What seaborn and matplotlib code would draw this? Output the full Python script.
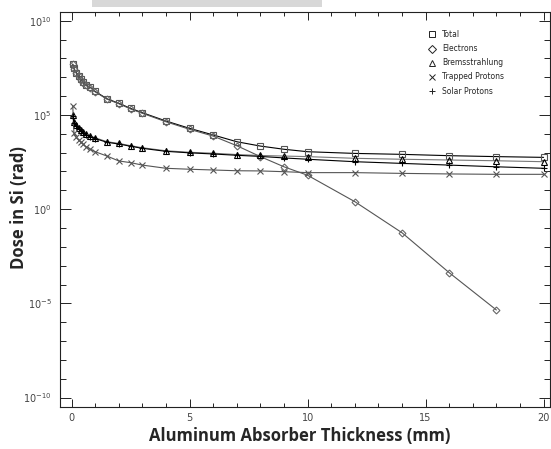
import numpy as np
import pandas as pd
import matplotlib
matplotlib.use("Agg")
import matplotlib.pyplot as plt
import seaborn as sns
from matplotlib.lines import Line2D
from matplotlib.patches import Rectangle
from matplotlib.ticker import FixedLocator, FuncFormatter, NullFormatter

# Aluminum thickness (mm) and dose in Si (log10 rad)
thickness = [0.05, 0.1, 0.2, 0.3, 0.4, 0.5, 0.6, 0.8, 1.0, 1.5, 2, 2.5, 3,
             4, 5, 6, 7, 8, 9, 10, 12, 14, 16, 18, 20]
log_total = [7.70, 7.47, 7.24, 7.07, 6.89, 6.73, 6.59, 6.47, 6.25, 5.86, 5.62, 5.35, 5.12,
             4.68, 4.29, 3.94, 3.58, 3.35, 3.18, 3.05, 2.96, 2.91, 2.84, 2.79, 2.75]
log_electrons = [7.68, 7.45, 7.22, 7.05, 6.87, 6.71, 6.57, 6.45, 6.23, 5.84, 5.60, 5.32, 5.09,
                 4.64, 4.24, 3.88, 3.37, 2.79, 2.25, 1.80, 0.40, -1.25, -3.37, -5.35]
log_brems = [5.00, 4.64, 4.45, 4.30, 4.18, 4.08, 3.97, 3.88, 3.79, 3.58, 3.49, 3.37, 3.26,
             3.10, 3.02, 2.97, 2.90, 2.85, 2.82, 2.79, 2.70, 2.65, 2.61, 2.57, 2.52]
log_trapped = [5.50, 4.03, 3.81, 3.67, 3.55, 3.44, 3.32, 3.18, 3.05, 2.82, 2.56, 2.47, 2.34,
               2.17, 2.12, 2.08, 2.04, 2.03, 1.99, 1.94, 1.94, 1.90, 1.87, 1.85, 1.85]
log_solar = [4.95, 4.60, 4.40, 4.26, 4.14, 4.04, 3.93, 3.84, 3.75, 3.55, 3.46, 3.34, 3.23,
             3.07, 2.99, 2.93, 2.86, 2.80, 2.72, 2.65, 2.52, 2.43, 2.34, 2.25, 2.17]

series = [
    ("Total", log_total, "s", "black", "#555555"),
    ("Electrons", log_electrons, "D", "#555555", "#666666"),
    ("Bremsstrahlung", log_brems, "^", "#777777", "black"),
    ("Trapped Protons", log_trapped, "x", "#555555", "#555555"),
    ("Solar Protons", log_solar, "+", "black", "black"),
]

sns.set_style("ticks")
plt.rcParams['font.family'] = ['DejaVu Sans']

fig = plt.figure(figsize=(5.51, 4.49), dpi=100)
ax = fig.add_axes([60 / 551, 1 - 407 / 449, 489.5 / 551, 394.7 / 449])

for name, vals, mk, lc, mc in series:
    df = pd.DataFrame({"x": thickness[:len(vals)], "y": 10.0 ** np.array(vals)})
    ms = 4 if mk in ("s", "^") else 3.5
    if mk in ("x", "+"):
        ms = 5
    sns.lineplot(data=df, x="x", y="y", ax=ax, color=lc, linewidth=0.8,
                 marker=mk, markersize=ms, markerfacecolor="none",
                 markeredgecolor=mc, markeredgewidth=0.8, legend=False)

ax.set_yscale("log")
ax.set_xlim(-0.49, 20.25)
ax.set_ylim(10 ** -10.5, 10 ** 10.45)

ax.xaxis.set_major_locator(FixedLocator([0, 5, 10, 15, 20]))
ax.xaxis.set_minor_locator(FixedLocator([v for v in range(21) if v % 5]))
ax.yaxis.set_major_locator(FixedLocator([1e-10, 1e-5, 1, 1e5, 1e10]))
ax.yaxis.set_minor_locator(FixedLocator([10.0 ** k for k in range(-10, 11) if k % 5]))
ax.yaxis.set_major_formatter(FuncFormatter(lambda v, p: r"$10^{%d}$" % round(np.log10(v))))
ax.yaxis.set_minor_formatter(NullFormatter())

for s in ax.spines.values():
    s.set_visible(True)
    s.set_linewidth(0.8)
    s.set_color("#222222")

ax.tick_params(axis="both", which="both", direction="in", top=True, right=True,
               colors="#222222", labelcolor="#444444", labelsize=7, width=0.7)
ax.tick_params(axis="x", which="major", length=6, pad=4)
ax.tick_params(axis="x", which="minor", length=3)
ax.tick_params(axis="y", which="major", length=8, pad=6)
ax.tick_params(axis="y", which="minor", length=4)

ax.set_xlabel("Aluminum Absorber Thickness (mm)", fontsize=12, fontweight="bold",
              family="Open Sans")
ax.set_ylabel("Dose in Si (rad)", fontsize=12, fontweight="bold", family="Open Sans")
ax.xaxis.set_label_coords((300 - 60) / 489.5, -(427 - 407) / 394.7)
ax.yaxis.set_label_coords(-(60 - 28) / 489.5, 1 - (208 - 12.3) / 394.7)

handles = [Line2D([], [], linestyle="none", marker=mk, markersize=4 if mk in ("s", "^", "D") else 5,
                  markerfacecolor="none", markeredgecolor="#222222", markeredgewidth=0.7)
           for name, vals, mk, lc, mc in series]
ax.legend(handles, [s[0] for s in series], loc="upper left", bbox_to_anchor=(0.752, 0.955),
          frameon=False, fontsize=5.5, handlelength=1.0, handletextpad=0.8,
          labelspacing=0.67, borderpad=0, borderaxespad=0)

# grey smudge along the top edge of the scan
fig.add_artist(Rectangle((92 / 551, 1 - 7 / 449), 230 / 551, 7 / 449,
                         transform=fig.transFigure, color="#d8d8d8", lw=0))

fig.savefig("out.png", dpi=100)
